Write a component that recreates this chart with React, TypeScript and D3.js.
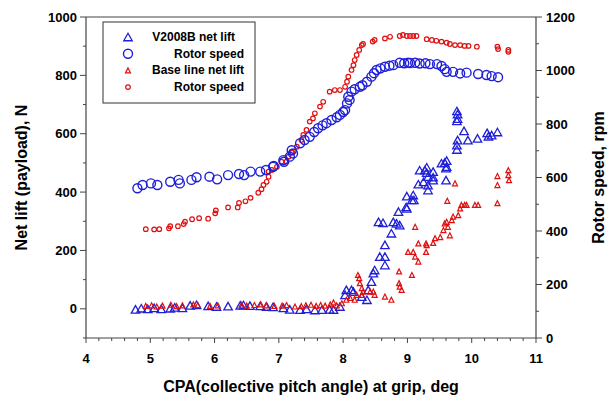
import React from "react";
import * as d3 from "d3";

// V2008B net lift (N) vs CPA (deg)
const blueLiftCpa = [4.77, 4.86, 4.96, 5.06, 5.17, 5.31, 5.38, 5.5, 5.62, 5.72, 5.9, 6.03, 6.21, 6.4, 6.45, 6.55, 6.71, 6.81, 6.91, 7.07, 7.17, 7.33, 7.43, 7.56, 7.67, 7.79,
  7.85, 7.95, 8.03, 8.05, 8.13, 8.16, 8.29, 8.37, 8.39, 8.44, 8.47, 8.49, 8.57, 8.65, 8.65, 8.65, 8.55, 8.62, 8.75, 8.78, 8.83, 8.86, 8.99, 9.07,
  8.88, 8.98, 8.99, 9.09, 9.1, 9.17, 9.25, 9.32, 9.32, 9.19, 9.27, 9.3, 9.3, 9.32, 9.4, 9.4, 9.4, 9.6, 9.53, 9.58, 9.61, 9.6, 9.61,
  9.77, 9.78, 9.78, 9.77, 9.78, 9.77, 9.77, 9.88, 9.94, 10.09, 10.24, 10.26, 10.31, 10.4];
const blueLiftN = [-2, 2, 0, 3, 0, 2, 5, 3, 12, 14, 10, 8, 9, 12, 13, 11, 10, 8, 7, 3, -2, -3, 0, -4, -3, -2,
  -3, 8, 48, 65, 65, 59, 42, 31, 65, 93, 122, 133, 179, 219, 179, 150, 298, 295, 259, 298, 293, 333, 344, 373,
  287, 349, 386, 390, 373, 427, 435, 424, 407, 475, 475, 485, 467, 453, 470, 451, 441, 441, 499, 501, 508, 482, 487,
  678, 667, 652, 644, 578, 561, 546, 610, 578, 584, 603, 591, 595, 606];

// V2008B rotor speed (rpm)
const blueRpmCpa = [4.8, 4.88, 5.01, 5.11, 5.31, 5.44, 5.46, 5.64, 5.72, 5.92, 6.04, 6.21, 6.38, 6.46, 6.56, 6.71, 6.8, 6.91, 6.92, 7.07, 7.08, 7.17, 7.2, 7.22,
  7.33, 7.4, 7.48, 7.55, 7.61, 7.68, 7.74, 7.82, 7.9, 7.95, 8.0, 8.03, 8.06, 8.08, 8.1, 8.13, 8.18, 8.26, 8.3, 8.37, 8.44, 8.48, 8.52, 8.58, 8.65, 8.72, 8.78,
  8.88, 8.95, 9.01, 9.04, 9.12, 9.19, 9.28, 9.35, 9.46, 9.53, 9.58, 9.61, 9.71, 9.82, 9.92, 10.1, 10.23, 10.31, 10.41];
const blueRpm = [560, 572, 578, 572, 584, 591, 578, 591, 601, 603, 593, 609, 613, 609, 622, 622, 628, 640, 643, 665, 659, 678, 702, 690,
  728, 740, 752, 770, 784, 795, 803, 815, 825, 834, 845, 852, 877, 902, 890, 921, 930, 939, 945, 958, 977, 990, 1002, 1008, 1014, 1018, 1020,
  1029, 1027, 1029, 1028, 1029, 1026, 1027, 1024, 1024, 1017, 1005, 995, 995, 989, 992, 987, 983, 979, 975];

// Base line net lift (N)
const redLiftCpa = [4.93, 5.02, 5.1, 5.19, 5.32, 5.41, 5.5, 5.67, 5.74, 5.93, 6.05, 6.42, 6.5, 6.62, 6.72, 6.8, 6.93, 7.05, 7.12, 7.25, 7.35, 7.42, 7.5, 7.58, 7.65, 7.72, 7.8, 7.9,
  7.85, 7.98, 8.05, 8.11, 8.18, 8.21, 8.23, 8.25, 8.26, 8.29, 8.31, 8.29, 8.42, 8.47, 8.49, 8.65, 8.75, 8.87, 8.87, 8.88, 8.91, 9.07,
  9.12, 9.17, 9.01, 9.09, 9.12, 9.17, 9.29, 9.29, 9.3, 9.4, 9.43, 9.51, 9.56, 9.58, 9.61, 9.63, 9.66, 9.69, 9.71, 9.79, 9.82, 9.84, 9.89, 9.92, 10.05, 10.1,
  9.74, 9.62, 10.4, 10.4, 10.4, 10.57, 10.57, 10.58];
const redLiftN = [10, 12, 8, 11, 14, 9, 12, 15, 13, 10, 12, 14, 11, 13, 15, 12, 10, 11, 13, 8, 9, 12, 14, 10, 13, 11, 15, 12,
  22, 19, 31, 37, 31, 48, 116, 105, 88, 71, 59, 48, 59, 59, 48, 42, 31, 128, 88, 76, 65, 116,
  281, 224, 195, 195, 179, 162, 224, 195, 218, 226, 242, 246, 270, 293, 298, 281, 252, 304, 316, 321, 344, 356, 356, 356, 356, 356,
  430, 370, 362, 424, 455, 475, 458, 441];

// Base line rotor speed (rpm)
const redRpmCpa = [4.93, 5.06, 5.14, 5.29, 5.31, 5.43, 5.52, 5.54, 5.65, 5.76, 5.9, 6.01, 6.02, 6.21, 6.36, 6.38, 6.48, 6.56, 6.68, 6.73, 6.76, 6.81, 6.84, 6.84, 6.89,
  6.97, 7.04, 7.12, 7.15, 7.2, 7.21, 7.28, 7.35, 7.38, 7.43, 7.48, 7.53, 7.56, 7.64, 7.69, 7.79, 7.87, 7.95, 8.03, 8.06, 8.08, 8.13, 8.16, 8.18, 8.21, 8.25, 8.29, 8.31,
  8.46, 8.49, 8.65, 8.73, 8.88, 8.93, 8.99, 9.04, 9.09, 9.14, 9.3, 9.38, 9.45, 9.53, 9.61, 9.66, 9.74, 9.82, 9.89, 9.95, 10.08, 10.4, 10.41, 10.57, 10.57];
const redRpm = [407, 406, 407, 410, 418, 418, 426, 435, 444, 448, 446, 466, 477, 488, 488, 505, 511, 524, 543, 556, 572, 584, 603, 622, 628,
  640, 659, 659, 678, 696, 693, 715, 740, 759, 778, 809, 821, 840, 865, 883, 921, 927, 927, 939, 958, 977, 1002, 1020, 1039, 1058, 1077, 1095, 1099,
  1108, 1114, 1120, 1126, 1129, 1133, 1129, 1129, 1129, 1129, 1117, 1114, 1111, 1108, 1104, 1099, 1095, 1095, 1092, 1092, 1089, 1089, 1080, 1077, 1070];

const xTicks = [4, 5, 6, 7, 8, 9, 10, 11];
const leftTicks = [0, 200, 400, 600, 800, 1000];
const rightTicks = [0, 200, 400, 600, 800, 1000, 1200];
const legendLabels = ["V2008B net lift", "Rotor speed", "Base line net lift", "Rotor speed"];

const BLUE = "#1f1fd8";
const RED = "#e01010";
const FONT = "'Liberation Sans', Arial, sans-serif";

const tri = (w: number, h: number) => `M0,${-h / 2}L${w / 2},${h / 2}L${-w / 2},${h / 2}Z`;

export default function App() {
  const x = d3.scaleLinear().domain([4, 11]).range([86, 536]);
  const yL = d3.scaleLinear().domain([-100, 1000]).range([338, 17]);
  const yR = d3.scaleLinear().domain([0, 1200]).range([338, 17]);
  const axisColor = "#444";

  const xMinor = d3.range(4, 11.001, 0.2);
  const lMinor = d3.range(-100, 1001, 100);
  const rMinor = d3.range(0, 1201, 100);

  const bigTri = tri(8.5, 7.5);
  const smallTri = tri(5, 5);

  return (
    <svg width={613} height={401} style={{ position: "absolute", left: 0, top: 0, background: "#fff" }} fontFamily={FONT}>
      {/* frame */}
      <line x1={86} x2={536} y1={17} y2={17} stroke={axisColor} strokeWidth={1.2} />
      <line x1={86} x2={86} y1={17} y2={338} stroke={axisColor} strokeWidth={1.2} />
      <line x1={536} x2={536} y1={17} y2={338} stroke={axisColor} strokeWidth={1.2} />
      <line x1={86} x2={536} y1={338} y2={338} stroke={axisColor} strokeWidth={1.2} />

      {/* x ticks */}
      {xMinor.map((t, i) => (
        <line key={"xm" + i} x1={x(t)} x2={x(t)} y1={338} y2={Math.abs(t - Math.round(t)) < 1e-6 ? 343 : 341} stroke={axisColor} />
      ))}
      {xTicks.map((t) => (
        <text key={"xt" + t} x={x(t)} y={363} textAnchor="middle" fontSize={13} fontWeight="bold">{t}</text>
      ))}

      {/* left ticks */}
      {lMinor.map((t) => (
        <line key={"lm" + t} x1={86} x2={t % 200 === 0 ? 80 : 83} y1={yL(t)} y2={yL(t)} stroke={axisColor} />
      ))}
      {leftTicks.map((t) => (
        <text key={"lt" + t} x={77} y={yL(t) + 4.5} textAnchor="end" fontSize={13} fontWeight="bold">{t}</text>
      ))}

      {/* right ticks */}
      {rMinor.map((t) => (
        <line key={"rm" + t} x1={536} x2={t % 200 === 0 ? 542 : 539} y1={yR(t)} y2={yR(t)} stroke={axisColor} />
      ))}
      {rightTicks.map((t) => (
        <text key={"rt" + t} x={546} y={yR(t) + 4.5} textAnchor="start" fontSize={13} fontWeight="bold">{t}</text>
      ))}

      {/* titles */}
      <text x={311} y={392} textAnchor="middle" fontSize={16} fontWeight="bold">CPA(collective pitch angle) at grip, deg</text>
      <text transform={`translate(27,${yL(450)}) rotate(-90)`} textAnchor="middle" fontSize={16} fontWeight="bold">Net lift (payload), N</text>
      <text transform={`translate(604,${yR(600)}) rotate(-90)`} textAnchor="middle" fontSize={16} fontWeight="bold">Rotor speed, rpm</text>

      {/* data */}
      <g fill="none" strokeWidth={1.2}>
        {redRpmCpa.map((c, i) => (
          <circle key={"rr" + i} cx={x(c)} cy={yR(redRpm[i])} r={2.3} stroke={RED} />
        ))}
        {blueRpmCpa.map((c, i) => (
          <circle key={"br" + i} cx={x(c)} cy={yR(blueRpm[i])} r={4.5} stroke={BLUE} strokeWidth={1.4} />
        ))}
        {blueLiftCpa.map((c, i) => (
          <path key={"bl" + i} d={bigTri} transform={`translate(${x(c)},${yL(blueLiftN[i])})`} stroke={BLUE} strokeWidth={1.3} />
        ))}
        {redLiftCpa.map((c, i) => (
          <path key={"rl" + i} d={smallTri} transform={`translate(${x(c)},${yL(redLiftN[i])})`} stroke={RED} />
        ))}
      </g>

      {/* legend */}
      <rect x={103} y={22} width={152} height={81} fill="#fff" stroke="#333" strokeWidth={1} />
      {legendLabels.map((l, i) => {
        const cy = 37 + i * 16.7;
        let mark;
        if (i === 0) mark = <path d={bigTri} transform={`translate(128,${cy})`} fill="none" stroke={BLUE} strokeWidth={1.3} />;
        else if (i === 1) mark = <circle cx={128} cy={cy} r={4.5} fill="none" stroke={BLUE} strokeWidth={1.4} />;
        else if (i === 2) mark = <path d={smallTri} transform={`translate(128,${cy})`} fill="none" stroke={RED} strokeWidth={1.2} />;
        else mark = <circle cx={128} cy={cy} r={2.3} fill="none" stroke={RED} strokeWidth={1.2} />;
        return (
          <g key={"lg" + i}>
            {mark}
            <text x={i === 0 ? 235 : 244} y={cy + 4} textAnchor="end" fontSize={12} fontWeight="bold">{l}</text>
          </g>
        );
      })}
    </svg>
  );
}
